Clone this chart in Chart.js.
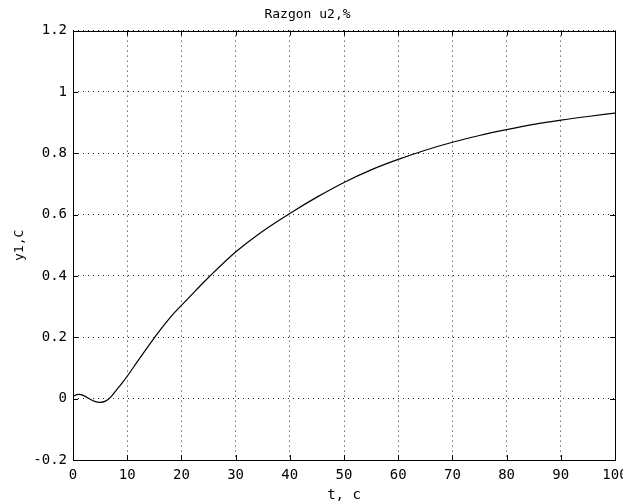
<!DOCTYPE html>
<html>
<head>
<meta charset="utf-8">
<script src="https://cdn.jsdelivr.net/npm/chart.js@4/dist/chart.umd.min.js"></script>
<style>
  html, body { margin: 0; padding: 0; background: #fff; }
  #wrap { width: 623px; height: 504px; }
</style>
</head>
<body>
<div id="wrap"><canvas id="razgon" width="623" height="504"></canvas></div>
<script>
// time, s
const tValues = [0, 1, 2, 3, 4, 5, 6, 7, 8, 9, 10, 12, 14, 16, 18, 20, 22, 25, 30, 35, 40, 45, 50, 55, 60, 65, 70, 75, 80, 85, 90, 95, 100];
// y1 response
const y1Values = [0.008, 0.014, 0.01, 0.0, -0.009, -0.012, -0.008, 0.006, 0.028, 0.05, 0.073, 0.124, 0.174, 0.222, 0.266, 0.304, 0.341, 0.395, 0.478, 0.546, 0.604, 0.657, 0.705, 0.746, 0.78, 0.81, 0.836, 0.858, 0.877, 0.894, 0.908, 0.92, 0.931];

const xTicks = [0, 10, 20, 30, 40, 50, 60, 70, 80, 90, 100];
const yTicks = [-0.2, 0, 0.2, 0.4, 0.6, 0.8, 1, 1.2];

const FONT = "DejaVu Sans Mono";

// рамка и внутренние засечки как в matlab
const boxTicks = {
  id: "boxTicks",
  afterDraw(chart) {
    const { ctx, chartArea: a, scales } = chart;
    const len = 5;
    ctx.save();
    ctx.strokeStyle = "#000";
    ctx.lineWidth = 1;
    ctx.beginPath();
    xTicks.forEach(v => {
      const px = Math.round(scales.x.getPixelForValue(v)) + 0.5;
      ctx.moveTo(px, a.bottom); ctx.lineTo(px, a.bottom - len);
      ctx.moveTo(px, a.top); ctx.lineTo(px, a.top + len);
    });
    yTicks.forEach(v => {
      const py = Math.round(scales.y.getPixelForValue(v)) + 0.5;
      ctx.moveTo(a.left, py); ctx.lineTo(a.left + len, py);
      ctx.moveTo(a.right, py); ctx.lineTo(a.right - len, py);
    });
    ctx.stroke();
    ctx.strokeRect(Math.round(a.left) + 0.5, Math.round(a.top) + 0.5,
      Math.round(a.right - a.left), Math.round(a.bottom - a.top));
    ctx.restore();
  }
};

new Chart(document.getElementById("razgon"), {
  type: "line",
  data: {
    datasets: [{
      data: tValues.map((t, i) => ({ x: t, y: y1Values[i] })),
      borderColor: "#000",
      borderWidth: 1.2,
      pointRadius: 0,
      fill: false,
      cubicInterpolationMode: "monotone"
    }]
  },
  plugins: [boxTicks],
  options: {
    responsive: false,
    animation: false,
    events: [],
    layout: { padding: { left: 0, right: 8, top: 0, bottom: 0 } },
    plugins: {
      legend: { display: false },
      tooltip: { enabled: false },
      title: {
        display: true,
        text: "Razgon u2,%",
        color: "#000",
        font: { family: FONT, size: 13, weight: "normal" },
        padding: { top: 7, bottom: 8 }
      }
    },
    scales: {
      x: {
        type: "linear",
        min: 0,
        max: 100,
        afterBuildTicks: s => { s.ticks = xTicks.map(v => ({ value: v })); },
        afterFit: s => { s.height = 44; s.paddingLeft = 0; s.paddingRight = 0; },
        border: { display: false, dash: [1, 4] },
        grid: { color: "#222", drawTicks: false },
        ticks: {
          color: "#000",
          font: { family: FONT, size: 14 },
          padding: 7,
          maxRotation: 0,
          callback: v => String(v)
        },
        title: {
          display: true,
          text: "t, c",
          color: "#000",
          font: { family: FONT, size: 14 },
          padding: { top: 0, bottom: 0 }
        }
      },
      y: {
        min: -0.2,
        max: 1.2,
        afterBuildTicks: s => { s.ticks = yTicks.map(v => ({ value: v })); },
        afterFit: s => { s.width = 73; s.paddingTop = 0; s.paddingBottom = 0; },
        border: { display: false, dash: [1, 4] },
        grid: { color: "#222", drawTicks: false },
        ticks: {
          color: "#000",
          font: { family: FONT, size: 14 },
          padding: 6,
          callback: v => String(Math.round(v * 10) / 10)
        },
        title: {
          display: true,
          text: "y1,C",
          color: "#000",
          font: { family: FONT, size: 13 },
          padding: { top: 12, bottom: 0 }
        }
      }
    }
  }
});
</script>
</body>
</html>
